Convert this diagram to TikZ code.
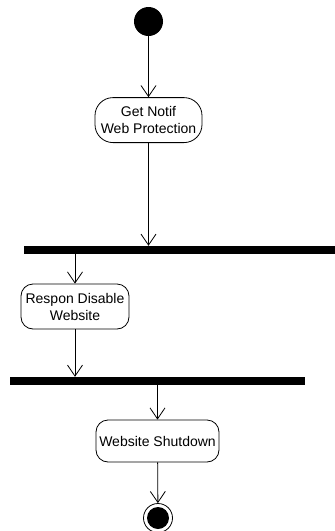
\documentclass[tikz,border=0pt]{standalone}
\usepackage{fontspec}
\setmainfont{Liberation Sans}
\usepackage{tikz}
\usetikzlibrary{
  arrows.meta,
  positioning
}
\tikzset{
  actblock/.style = {
    rectangle, rounded corners=#1,
    draw=black, line width=0.8pt,
    fill=white, minimum height=45pt,
    align=center, inner sep=1pt,
    font=\fontsize{14}{17}\selectfont
  },
  actblock/.default = 12pt,
  forkbar/.style = {
    rectangle, fill=black, draw=none,
    minimum height=8pt, inner sep=0pt
  },
  startnode/.style = {
    circle, fill=black, minimum size=29pt, inner sep=0pt
  },
  endnode/.style = {
    circle, draw=black, line width=0.8pt, fill=white,
    minimum size=29pt, inner sep=0pt,
    path picture={\fill[black] (path picture bounding box.center) circle (11pt);}
  },
  arr/.style = {-{Straight Barb[length=11pt, width=15pt]}, draw=black, line width=0.8pt},
}

\begin{document}
\begin{tikzpicture}[x=1pt, y=-1pt]

  \useasboundingbox (0,0) rectangle (335,531);

  \node[startnode] (start) at (148.5,21.5) {};
  \node[actblock=18pt, minimum width=107pt, below=61pt of start] (notif)
    {Get Notif\\Web Protection};

  %% first bar
  \node[forkbar, minimum width=311pt] (fork1) at (179.5,250) {};
  \node[actblock, minimum width=108pt] (respon) at (75,306.5)
    {Respon Disable\\Website};

  %% second bar
  \node[forkbar, minimum width=295pt] (fork2) at (157.5,381) {};
  \node[actblock, minimum width=123pt, minimum height=42pt] (shutdown) at (157.5,441)
    {Website Shutdown};
  \node[endnode] (finish) at (158,518) {};

  \draw[arr] (start) -- (notif);
  \draw[arr] (notif) -- (notif |- fork1.north);
  \draw[arr] (respon |- fork1.south) -- (respon);
  \draw[arr] (respon) -- (respon |- fork2.north);
  \draw[arr] (shutdown |- fork2.south) -- (shutdown);
  \draw[arr] (shutdown) -- (finish);

\end{tikzpicture}
\end{document}
